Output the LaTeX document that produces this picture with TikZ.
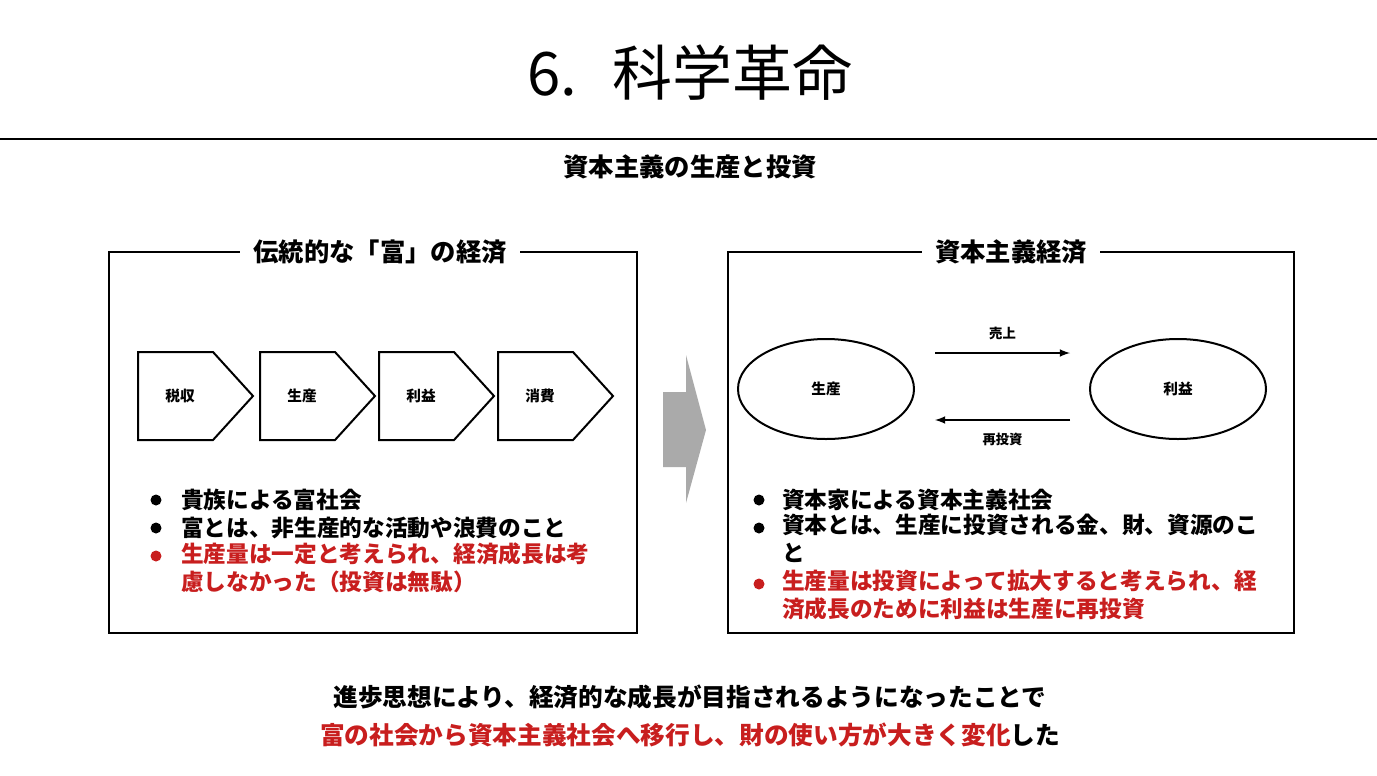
\documentclass[tikz,border=0pt]{standalone}
\usepackage{fontspec}
\usetikzlibrary{shapes.geometric}
\newfontfamily\jp{Noto Sans CJK JP}
\definecolor{myred}{RGB}{200,30,30}
\definecolor{mygray}{RGB}{170,170,170}
\begin{document}
\begin{tikzpicture}[x=0.75pt,y=-0.75pt,
  box/.style={draw,line width=2.2pt},
  ttl/.style={fill=white,inner xsep=10pt,font=\jp\bfseries\fontsize{19}{22}\selectfont},
  chev/.style={draw,line width=1.5pt},
  clab/.style={font=\jp\bfseries\fontsize{11}{13}\selectfont},
  bul/.style={anchor=west,inner sep=0pt,font=\jp\bfseries\fontsize{17}{21}\selectfont,align=left},
  ell/.style={draw,line width=1.5pt,ellipse,minimum width=132pt,minimum height=75pt},
  arr/.style={-latex,line width=1.6pt}]
\useasboundingbox (0,0) rectangle (1377,775);
\node[font=\jp\fontsize{45}{50}\selectfont] (title) at (690,73) {6.\hspace{0.6em}科学革命};
\draw[line width=2.2pt] (0,139) -- (1377,139);
\node[font=\jp\bfseries\fontsize{19}{22}\selectfont] (sub) at (690,167) {資本主義の生産と投資};
% left box
\draw[box] (109,252) rectangle (637,633);
\node[ttl] (lt) at (380,252) {伝統的な「富」の経済};
\foreach \x/\t/\n in {138/税収/c1,260/生産/c2,379/利益/c3,498/消費/c4}{
  \draw[chev] (\x,352) -- (\x+75,352) -- (\x+115,396) -- (\x+75,440) -- (\x,440) -- cycle;
  \node[clab] (\n) at (\x+42,396) {\t};
}
% gray arrow
\fill[mygray] (663,392) -- (686,392) -- (686,355) -- (706,430) -- (686,503) -- (686,467) -- (663,467) -- cycle;
% left bullets
\foreach \y in {500,528}{\fill (156,\y) circle (5.5);}
\node[bul] (lb1) at (181,500) {貴族による富社会};
\node[bul] (lb2) at (181,528) {富とは、非生産的な活動や浪費のこと};
\fill[myred] (156,556) circle (5.5);
\node[bul,text=myred,anchor=north west] (lb3) at (181,542) {生産量は一定と考えられ、経済成長は考\\慮しなかった（投資は無駄）};
% right box
\draw[box] (728,252) rectangle (1294,633);
\node[ttl] (rt) at (1011,252) {資本主義経済};
\node[ell,clab] (e1) at (826,389) {生産};
\node[ell,clab] (e2) at (1178,389) {利益};
\coordinate (a1) at (935,353); \coordinate (a2) at (1070,353);
\coordinate (b1) at (1070,420); \coordinate (b2) at (935,420);
\draw[arr] (a1) -- node[above=6pt,font=\jp\bfseries\fontsize{10}{12}\selectfont]{売上} (a2);
\draw[arr] (b1) -- node[below=6pt,font=\jp\bfseries\fontsize{10}{12}\selectfont]{再投資} (b2);
\foreach \y in {500,528}{\fill (759,\y) circle (5.5);}
\node[bul] (rb1) at (782,500) {資本家による資本主義社会};
\node[bul,anchor=north west] (rb2) at (782,514) {資本とは、生産に投資される金、財、資源のこ\\と};
\fill[myred] (759,584) circle (5.5);
\node[bul,text=myred,anchor=north west] (rb3) at (782,570) {生産量は投資によって拡大すると考えられ、経\\済成長のために利益は生産に再投資};
% bottom
\node[font=\jp\bfseries\fontsize{18.5}{22}\selectfont] (bt1) at (690,697) {進歩思想により、経済的な成長が目指されるようになったことで};
\node[font=\jp\bfseries\fontsize{18.5}{22}\selectfont] (bt2) at (690,735) {\textcolor{myred}{富の社会から資本主義社会へ移行し、財の使い方が大きく変化}した};
\end{tikzpicture}
\end{document}
